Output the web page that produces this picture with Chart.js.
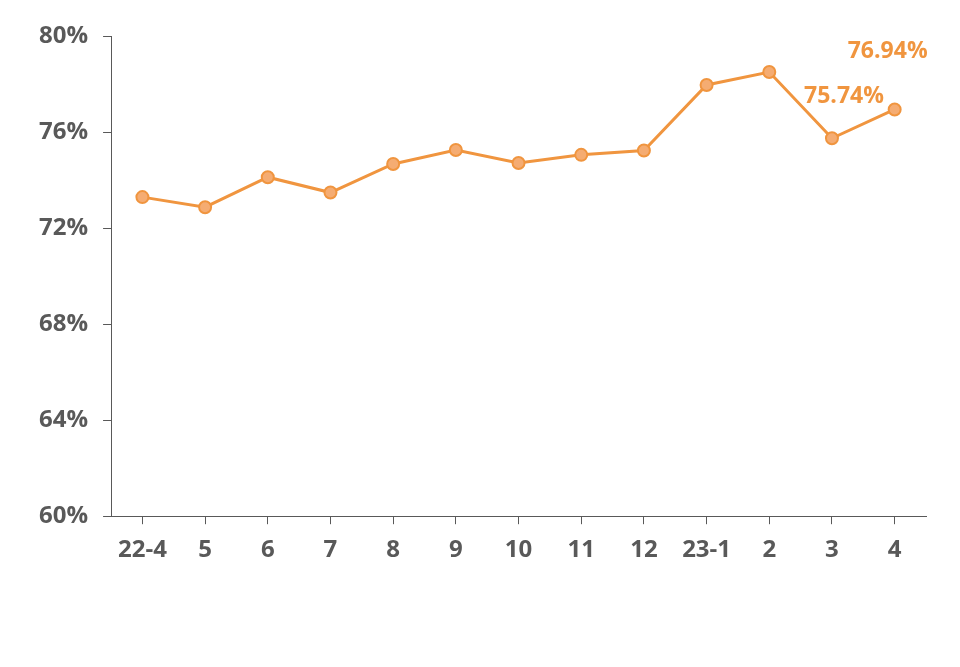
<!DOCTYPE html>
<html>
<head>
<meta charset="utf-8">
<script src="https://cdn.jsdelivr.net/npm/chart.js@4"></script>
<style>
  html, body { margin: 0; padding: 0; background: #fff; }
  #wrap { width: 960px; height: 667px; }
</style>
</head>
<body>
<div id="wrap"><canvas id="rateChart" width="960" height="667"></canvas></div>
<script>
const months = ['22-4', '5', '6', '7', '8', '9', '10', '11', '12', '23-1', '2', '3', '4'];
const rates = [73.29, 72.87, 74.12, 73.48, 74.67, 75.25, 74.71, 75.05, 75.23, 77.96, 78.5, 75.74, 76.94];
const labelledIdx = [11, 12];
const labelShift = { 11: [12, -42], 12: [-7, -58] };

const axisGrey = '#595959';
const orange = '#F0953F';

const valueLabels = {
  id: 'valueLabels',
  afterDatasetsDraw(chart) {
    const ctx = chart.ctx;
    const meta = chart.getDatasetMeta(0);
    ctx.save();
    ctx.font = 'bold 23px "Open Sans"';
    ctx.fillStyle = orange;
    ctx.textAlign = 'center';
    ctx.textBaseline = 'middle';
    labelledIdx.forEach(i => {
      const pt = meta.data[i];
      const s = labelShift[i];
      ctx.fillText(rates[i].toFixed(2) + '%', pt.x + s[0], pt.y + s[1]);
    });
    ctx.restore();
  }
};

new Chart(document.getElementById('rateChart'), {
  type: 'line',
  data: {
    labels: months,
    datasets: [{
      data: rates,
      borderColor: orange,
      borderWidth: 3,
      pointRadius: 6,
      pointBorderWidth: 2,
      pointBackgroundColor: '#F5AC72',
      pointBorderColor: orange,
      tension: 0
    }]
  },
  options: {
    responsive: false,
    animation: false,
    layout: { padding: { left: 24, right: 34, top: 36, bottom: 90 } },
    plugins: { legend: { display: false }, tooltip: { enabled: false } },
    scales: {
      x: {
        offset: true,
        grid: { drawOnChartArea: false, color: axisGrey, tickLength: 8 },
        border: { color: axisGrey, width: 1 },
        ticks: { color: axisGrey, font: { family: 'Open Sans', size: 24, weight: 'bold' }, padding: 12, maxRotation: 0 }
      },
      y: {
        min: 60,
        max: 80,
        grid: { drawOnChartArea: false, color: axisGrey, tickLength: 8 },
        border: { color: axisGrey, width: 1 },
        ticks: {
          stepSize: 4,
          color: axisGrey,
          font: { family: 'Open Sans', size: 24, weight: 'bold' },
          padding: 15,
          callback: v => v + '%'
        }
      }
    }
  },
  plugins: [valueLabels]
});
</script>
</body>
</html>
